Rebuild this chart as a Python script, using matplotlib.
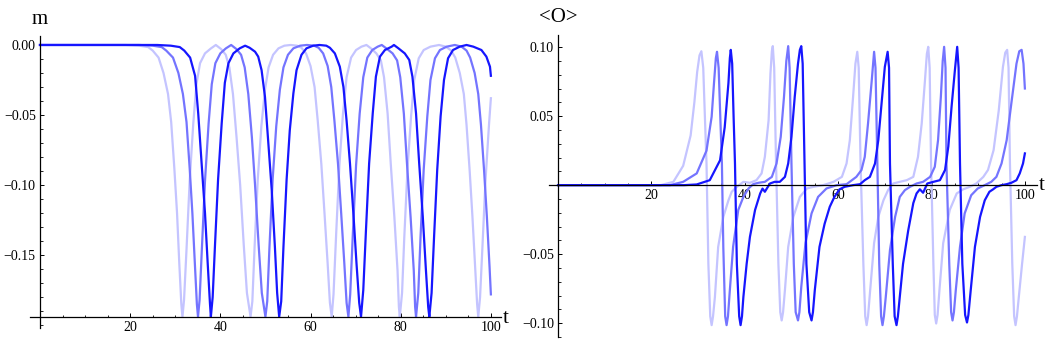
import numpy as np
import matplotlib
matplotlib.use('Agg')
import matplotlib.pyplot as plt
from matplotlib.ticker import MultipleLocator, FixedLocator, FuncFormatter

# m(t), three runs (light -> dark), points as (t, m)
m_light = [(0, 0), (19, 0), (22, -0.0005), (24, -0.0015), (25, -0.004), (26.3, -0.009), (27.4, -0.02),
           (28.4, -0.035), (29.1, -0.055), (29.8, -0.088), (30.4, -0.12), (30.9, -0.156), (31.35, -0.185),
           (31.6, -0.194), (31.95, -0.182), (32.5, -0.146), (33.2, -0.097), (34.0, -0.056), (34.7, -0.028),
           (35.5, -0.013), (36.6, -0.006), (37.9, -0.0025), (39.0, 0), (40.2, -0.003), (41.2, -0.007),
           (42.0, -0.016), (42.8, -0.035), (43.6, -0.066), (44.4, -0.1), (45.2, -0.143), (45.9, -0.177),
           (46.7, -0.194), (47.1, -0.183), (47.6, -0.144), (48.3, -0.096), (49.1, -0.058), (49.9, -0.032),
           (50.7, -0.016), (51.7, -0.007), (52.9, -0.0024), (54.2, -0.0005), (55.6, 0), (57.0, -0.0005),
           (58.0, -0.002), (59.0, -0.006), (60.0, -0.015), (60.9, -0.030), (61.6, -0.054), (62.4, -0.085),
           (63.1, -0.12), (63.8, -0.156), (64.3, -0.184), (64.7, -0.194), (65.1, -0.178), (65.7, -0.134),
           (66.4, -0.086), (67.2, -0.049), (68.0, -0.023), (69.0, -0.009), (70.1, -0.0036), (71.3, -0.0012),
           (72.4, 0), (73.4, -0.0024), (74.6, -0.006), (75.6, -0.011), (76.3, -0.023), (77.1, -0.049),
           (77.8, -0.085), (78.6, -0.123), (79.3, -0.161), (79.6, -0.187), (79.8, -0.194), (80.3, -0.177),
           (80.8, -0.137), (81.5, -0.089), (82.3, -0.051), (83.0, -0.025), (84.0, -0.0095), (85.1, -0.0036),
           (86.6, -0.0012), (88.5, 0), (90.0, -0.0012), (91.2, -0.004), (92.1, -0.009), (93.1, -0.02),
           (94.0, -0.035), (94.6, -0.057), (95.3, -0.09), (95.9, -0.122), (96.5, -0.158), (96.95, -0.185),
           (97.2, -0.194), (97.6, -0.18), (98.1, -0.146), (98.8, -0.097), (99.6, -0.056), (100, -0.038)]

m_mid = [(0, 0), (22, 0), (25, -0.0005), (27, -0.0015), (28, -0.004), (29.5, -0.009), (30.7, -0.02),
         (31.7, -0.035), (32.5, -0.055), (33.2, -0.088), (33.8, -0.12), (34.35, -0.156), (34.8, -0.185),
         (35.05, -0.194), (35.4, -0.182), (35.9, -0.146), (36.6, -0.097), (37.4, -0.056), (38.1, -0.028),
         (38.9, -0.013), (40.0, -0.006), (41.2, -0.0025), (42.4, 0), (43.6, -0.003), (44.6, -0.007),
         (45.4, -0.016), (46.2, -0.035), (47.0, -0.066), (47.7, -0.1), (48.5, -0.143), (49.2, -0.177),
         (50.0, -0.194), (50.4, -0.183), (50.9, -0.144), (51.6, -0.096), (52.4, -0.058), (53.2, -0.032),
         (54.0, -0.016), (55.0, -0.007), (56.2, -0.0024), (57.7, -0.0005), (59.2, 0), (60.8, -0.0005),
         (61.8, -0.002), (62.8, -0.006), (63.8, -0.015), (64.6, -0.030), (65.3, -0.054), (66.1, -0.085),
         (66.8, -0.12), (67.5, -0.156), (68.0, -0.184), (68.4, -0.194), (68.8, -0.178), (69.4, -0.134),
         (70.1, -0.086), (70.9, -0.049), (71.7, -0.023), (72.6, -0.009), (73.7, -0.0036), (74.9, -0.0012),
         (75.8, 0), (76.8, -0.0024), (78.2, -0.006), (79.2, -0.011), (79.9, -0.023), (80.7, -0.049),
         (81.4, -0.085), (82.2, -0.123), (82.9, -0.161), (83.2, -0.187), (83.4, -0.194), (83.9, -0.177),
         (84.4, -0.137), (85.1, -0.089), (85.9, -0.051), (86.6, -0.025), (87.6, -0.0095), (88.7, -0.0036),
         (90.2, -0.0012), (92.0, 0), (93.5, -0.0012), (94.6, -0.004), (95.4, -0.009), (96.4, -0.02),
         (97.2, -0.035), (97.8, -0.057), (98.5, -0.09), (99.1, -0.122), (99.7, -0.158), (100, -0.178)]

m_dark = [(0, 0), (26, 0), (29, -0.0005), (31, -0.0015), (32, -0.004), (33.3, -0.009), (34.4, -0.022),
          (35.1, -0.049), (35.85, -0.0845), (36.6, -0.12), (37.2, -0.156), (37.7, -0.1845), (37.9, -0.194),
          (38.3, -0.180), (38.8, -0.144), (39.5, -0.096), (40.3, -0.056), (41.0, -0.027), (41.8, -0.013),
          (42.9, -0.006), (44.3, -0.0024), (45.5, -0.0005), (46.5, -0.002), (47.7, -0.0048), (48.4, -0.0083),
          (49.15, -0.018), (49.9, -0.037), (50.6, -0.068), (51.4, -0.1036), (52.1, -0.144), (52.6, -0.177),
          (53.05, -0.194), (53.5, -0.183), (54.0, -0.144), (54.7, -0.096), (55.4, -0.061), (56.2, -0.0345),
          (56.9, -0.018), (58.0, -0.007), (59.1, -0.0024), (60.6, -0.0005), (62.0, 0), (63.5, -0.0005),
          (64.3, -0.002), (65.4, -0.006), (66.5, -0.0155), (67.3, -0.030), (68.0, -0.054), (68.75, -0.0845),
          (69.5, -0.120), (70.2, -0.156), (70.8, -0.184), (71.2, -0.194), (71.7, -0.175), (72.3, -0.132),
          (73.0, -0.0845), (73.8, -0.0488), (74.5, -0.0226), (75.4, -0.0083), (76.5, -0.0036), (78.0, -0.0012),
          (78.5, 0), (79.5, -0.0024), (80.9, -0.006), (81.9, -0.0107), (82.6, -0.0226), (83.4, -0.0488),
          (84.1, -0.0845), (84.9, -0.1226), (85.6, -0.161), (86.1, -0.187), (86.35, -0.194), (86.85, -0.177),
          (87.4, -0.137), (88.1, -0.089), (88.85, -0.051), (89.6, -0.025), (90.5, -0.0095), (91.6, -0.0036),
          (93.1, -0.0012), (94.6, 0), (96.1, -0.0012), (97.9, -0.0036), (99.0, -0.0083), (99.8, -0.0155),
          (100, -0.022)]

# <O>(t), same three runs
o_light = [(0, 0), (22, 0), (24.7, 0.0024), (26.8, 0.014), (28.4, 0.036), (29.2, 0.06), (29.8, 0.082),
           (30.3, 0.094), (30.7, 0.097), (31.1, 0.085), (31.5, 0.045), (31.8, 0.016), (32.2, -0.057),
           (32.6, -0.095), (32.9, -0.1014), (33.2, -0.095), (33.6, -0.081), (34.3, -0.0447), (35.4, -0.023),
           (36.5, -0.011), (37.2, -0.0048), (38.3, -0.0012), (39.7, 0.0024), (41.1, 0.0017), (42.5, 0.0036),
           (43.6, 0.0085), (44.3, 0.0205), (45.1, 0.047), (45.5, 0.081), (45.8, 0.097), (46.0, 0.1007),
           (46.3, 0.085), (46.7, 0.0157), (47.2, -0.057), (47.6, -0.092), (47.9, -0.098), (48.2, -0.092),
           (48.6, -0.076), (49.3, -0.0447), (50.4, -0.023), (51.8, -0.0085), (53.3, -0.0024), (54.7, -0.0012),
           (56.8, 0), (59.0, 0.0024), (60.8, 0.006), (61.8, 0.0157), (62.5, 0.0326), (63.2, 0.064),
           (63.7, 0.088), (64.1, 0.0966), (64.4, 0.085), (64.8, 0.0157), (65.4, -0.057), (65.8, -0.095),
           (66.1, -0.1014), (66.4, -0.095), (66.8, -0.0785), (67.7, -0.042), (68.6, -0.023), (69.7, -0.011),
           (70.7, -0.0036), (71.8, 0.0012), (73.2, 0.0024), (74.7, 0.0036), (76.1, 0.006), (77.1, 0.0205),
           (77.9, 0.0447), (78.6, 0.076), (79.0, 0.095), (79.3, 0.1002), (79.6, 0.085), (79.9, 0.0157),
           (80.4, -0.057), (80.7, -0.094), (81.0, -0.1002), (81.3, -0.094), (81.7, -0.076), (82.5, -0.042),
           (83.9, -0.018), (85.4, -0.006), (86.8, -0.003), (88.2, -0.0012), (89.6, 0.0012), (91.1, 0.006),
           (92.1, 0.011), (93.3, 0.0254), (94.4, 0.054), (95.3, 0.0857), (95.8, 0.096), (96.2, 0.098),
           (96.5, 0.085), (96.8, 0.0157), (97.3, -0.057), (97.7, -0.095), (98.0, -0.1014), (98.3, -0.095),
           (98.7, -0.081), (99.4, -0.057), (100, -0.0375)]

o_mid = [(0, 0), (24, 0), (26.8, 0.0024), (29.7, 0.0085), (31.8, 0.025), (32.9, 0.0495), (33.4, 0.0737),
         (33.8, 0.092), (34.05, 0.0966), (34.4, 0.085), (34.8, 0.045), (35.1, 0.0157), (35.4, -0.045),
         (35.8, -0.095), (36.1, -0.1014), (36.4, -0.095), (36.8, -0.076), (37.5, -0.0447), (38.6, -0.018),
         (39.7, -0.0085), (40.8, -0.0024), (41.8, 0.0007), (42.9, 0.0017), (44.3, 0.0024), (45.8, 0.006),
         (46.8, 0.0157), (47.7, 0.035), (48.4, 0.064), (48.9, 0.09), (49.3, 0.1007), (49.6, 0.085),
         (50.0, 0.0157), (50.5, -0.057), (50.9, -0.092), (51.4, -0.098), (51.7, -0.092), (52.1, -0.0737),
         (53.0, -0.042), (54.3, -0.0205), (55.7, -0.0085), (57.5, -0.0024), (59.7, 0), (61.8, 0.0007),
         (63.9, 0.006), (65.0, 0.011), (65.7, 0.0205), (66.4, 0.0447), (67.2, 0.076), (67.7, 0.0966),
         (68.0, 0.085), (68.4, 0.0157), (68.8, -0.057), (69.2, -0.095), (69.5, -0.1014), (69.8, -0.095),
         (70.2, -0.081), (71.1, -0.047), (72.2, -0.023), (73.2, -0.0085), (74.3, -0.0036), (75.4, -0.0012),
         (76.8, 0.0012), (78.2, 0.0024), (79.7, 0.006), (80.7, 0.0133), (81.4, 0.0326), (82.0, 0.064),
         (82.4, 0.09), (82.7, 0.1002), (83.0, 0.085), (83.2, 0.0157), (83.8, -0.057), (84.2, -0.092),
         (84.5, -0.098), (84.8, -0.092), (85.2, -0.076), (86.1, -0.0447), (87.1, -0.0205), (88.5, -0.0073),
         (89.9, -0.0024), (91.4, 0), (92.8, 0.0024), (93.9, 0.006), (95.0, 0.0157), (96.1, 0.0326),
         (97.1, 0.0592), (98.2, 0.088), (98.8, 0.097), (99.3, 0.098), (99.7, 0.088), (100, 0.07)]

o_dark = [(0, 0), (27, 0), (29.7, 0.0005), (32.5, 0.0036), (34.7, 0.018), (35.7, 0.042), (36.5, 0.074),
          (36.8, 0.092), (37.0, 0.098), (37.3, 0.088), (37.6, 0.05), (37.9, 0.0157), (38.3, -0.057),
          (38.8, -0.095), (39.1, -0.1014), (39.4, -0.095), (39.7, -0.081), (40.4, -0.057), (41.1, -0.0375),
          (42.2, -0.018), (43.3, -0.006), (43.8, -0.0025), (44.3, -0.0048), (44.8, -0.002), (45.4, 0.0012),
          (46.4, 0.0024), (47.5, 0.0024), (48.6, 0.006), (49.3, 0.0157), (50.0, 0.035), (50.7, 0.064),
          (51.4, 0.088), (51.8, 0.098), (52.1, 0.1007), (52.4, 0.088), (52.8, 0.0157), (53.2, -0.057),
          (53.8, -0.092), (54.3, -0.098), (54.6, -0.092), (55.0, -0.076), (56.0, -0.0447), (57.1, -0.028),
          (58.2, -0.0157), (59.2, -0.0085), (60.3, -0.003), (61.4, -0.0012), (63.2, 0), (64.7, 0.0007),
          (65.7, 0.0036), (66.8, 0.006), (67.9, 0.0157), (68.6, 0.0326), (69.3, 0.0592), (70.0, 0.0857),
          (70.6, 0.0966), (70.9, 0.085), (71.1, 0.0157), (71.7, -0.057), (72.1, -0.095), (72.5, -0.1014),
          (72.8, -0.095), (73.2, -0.081), (73.9, -0.057), (75.0, -0.033), (76.1, -0.013), (76.8, -0.006),
          (77.5, -0.003), (78.2, -0.0055), (79.1, 0.0012), (80.4, 0.0024), (81.8, 0.0036), (82.9, 0.011),
          (83.6, 0.028), (84.3, 0.057), (85.0, 0.083), (85.5, 0.1002), (85.8, 0.085), (86.1, 0.0157),
          (86.6, -0.057), (87.2, -0.094), (87.6, -0.0995), (87.9, -0.094), (88.4, -0.076), (89.3, -0.0447),
          (90.4, -0.023), (91.4, -0.011), (92.4, -0.0048), (93.2, -0.003), (93.9, -0.0012), (95.0, 0),
          (96.1, 0.0007), (97.1, 0.0017), (98.2, 0.0036), (98.9, 0.0085), (99.6, 0.0157), (100, 0.023)]

colors = ['#c4c4ff', '#7474ff', '#1616ff']
serif = 'Liberation Serif'

fig = plt.figure(figsize=(10.51, 3.40), dpi=100)
ax1 = fig.add_axes([0.0285, 0.0353, 0.448, 0.8588])
ax2 = fig.add_axes([0.5224, 0.0088, 0.4643, 0.888])

# two decimals, real minus sign
fmt2 = FuncFormatter(lambda y, pos: ('%.2f' % y).replace('-', '\u2212'))


def style_axes(ax, xlim, ylim, x_cross, yticks, ymin_step):
    ax.set_xlim(*xlim)
    ax.set_ylim(*ylim)
    for s in ['top', 'right']:
        ax.spines[s].set_visible(False)
    ax.spines['left'].set_position(('data', 0))
    ax.spines['bottom'].set_position(('data', x_cross))
    for s in ['left', 'bottom']:
        ax.spines[s].set_linewidth(0.9)
    ax.xaxis.set_major_locator(FixedLocator([20, 40, 60, 80, 100]))
    ax.xaxis.set_minor_locator(MultipleLocator(5))
    ax.yaxis.set_major_locator(FixedLocator(yticks))
    ax.yaxis.set_minor_locator(MultipleLocator(ymin_step))
    ax.yaxis.set_major_formatter(fmt2)
    ax.tick_params(which='major', direction='in', length=3.2, width=0.7, labelsize=10, pad=3)
    ax.tick_params(which='minor', direction='in', length=1.8, width=0.6)
    for lab in ax.get_xticklabels() + ax.get_yticklabels():
        lab.set_fontfamily(serif)
    ax.patch.set_visible(False)


for data, c in zip([m_light, m_mid, m_dark], colors):
    t, v = np.array(data).T
    ax1.plot(t, v, color=c, lw=1.6, solid_joinstyle='round')
style_axes(ax1, (-2.22, 102.2), (-0.202, 0.0064), -0.194, [0.0, -0.05, -0.10, -0.15], 0.01)
ax1.text(102.6, -0.1955, 't', ha='left', va='center', fontsize=15, family=serif, clip_on=False)

for data, c in zip([o_light, o_mid, o_dark], colors):
    t, v = np.array(data).T
    ax2.plot(t, v, color=c, lw=1.6, solid_joinstyle='round')
style_axes(ax2, (-1.93, 102.6), (-0.110, 0.1087), 0.0, [-0.10, -0.05, 0.05, 0.10], 0.01)
ax2.text(103.0, 0.0, 't', ha='left', va='center', fontsize=15, family=serif, clip_on=False)

# axis names above the vertical axes
fig.text(40 / 1051, 1 - 19 / 340, 'm', ha='center', va='center', fontsize=15, family=serif)
fig.text(558 / 1051, 1 - 18 / 340, '<O>', ha='center', va='center', fontsize=15, family=serif)

fig.savefig('out.png', dpi=100)
